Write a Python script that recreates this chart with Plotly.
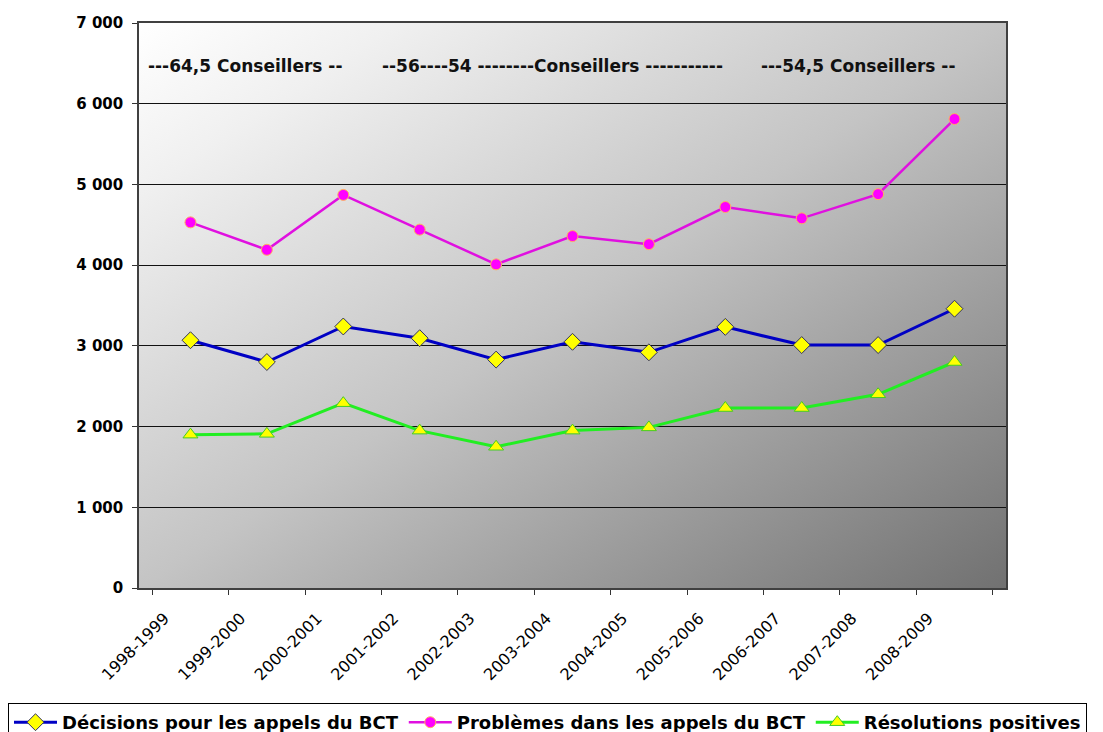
import plotly.graph_objects as go
import urllib.parse

# ---- data ----
years = ["1998-1999", "1999-2000", "2000-2001", "2001-2002", "2002-2003", "2003-2004",
         "2004-2005", "2005-2006", "2006-2007", "2007-2008", "2008-2009"]
decisions = [3070, 2800, 3240, 3095, 2830, 3050, 2920, 3235, 3010, 3010, 3460]
problemes = [4530, 4190, 4870, 4440, 4010, 4360, 4260, 4720, 4580, 4880, 5810]
resolutions = [1900, 1910, 2290, 1950, 1750, 1950, 1990, 2230, 2230, 2400, 2800]
series_names = ["Décisions pour les appels du BCT",
                "Problèmes dans les appels du BCT",
                "Résolutions positives"]
notes = ["---64,5 Conseillers --",
         "--56----54 --------Conseillers -----------",
         "---54,5 Conseillers --"]
note_x = [0.008, 0.278, 0.715]
note_y = 6470
y_ticks = [0, 1000, 2000, 3000, 4000, 5000, 6000, 7000]

FONT = "DejaVu Sans"

fig = go.Figure()
fig.add_trace(go.Scatter(
    x=years, y=decisions, name=series_names[0], mode="lines+markers",
    line=dict(color="#0000c4", width=3),
    marker=dict(symbol="diamond", size=13, color="#ffff00",
                line=dict(color="#303060", width=1))))
fig.add_trace(go.Scatter(
    x=years, y=problemes, name=series_names[1], mode="lines+markers",
    line=dict(color="#e010e0", width=2.5),
    marker=dict(symbol="circle", size=11, color="#ff00ff",
                line=dict(color="#ffb060", width=1))))
fig.add_trace(go.Scatter(
    x=years, y=resolutions, name=series_names[2], mode="lines+markers",
    line=dict(color="#22ee22", width=3),
    marker=dict(symbol="triangle-up", size=13, color="#ffff00",
                line=dict(color="#44cc22", width=1))))

for txt, xx in zip(notes, note_x):
    fig.add_annotation(text=txt, x=xx, xref="x domain", y=note_y, yref="y",
                       xanchor="left", yanchor="middle", showarrow=False,
                       font=dict(family=FONT, size=17, color="#111111", weight="bold"))

svg = ('<svg xmlns="http://www.w3.org/2000/svg" width="100" height="100" '
       'viewBox="0 0 100 100" preserveAspectRatio="none">'
       '<defs><linearGradient id="g" x1="0" y1="0" x2="1" y2="1">'
       '<stop offset="0" stop-color="#ffffff"/>'
       '<stop offset="0.15" stop-color="#f0f0f0"/>'
       '<stop offset="0.5" stop-color="#c4c4c4"/>'
       '<stop offset="1" stop-color="#717171"/>'
       '</linearGradient></defs>'
       '<rect x="0" y="0" width="100" height="100" fill="url(#g)"/></svg>')
src = "data:image/svg+xml;charset=utf-8," + urllib.parse.quote(svg)
fig.add_layout_image(dict(source=src, xref="x domain", yref="y domain",
                          x=0, y=1, sizex=1, sizey=1, xanchor="left", yanchor="top",
                          sizing="stretch", layer="below"))

# page body has an 8px margin: the figure is drawn 8px smaller and offset
W, H = 1095, 724
ml, mr, mt, mb = 2, 0, 15, 144
gw = W - ml - mr
gh = H - mt - mb
plot_l, plot_r, plot_b = 131, 998, 580
fig.update_layout(
    width=W, height=H,
    margin=dict(l=ml, r=mr, t=mt, b=mb, autoexpand=False),
    paper_bgcolor="white", plot_bgcolor="rgba(0,0,0,0)",
    separators=", ",
    font=dict(family=FONT, color="black"),
    showlegend=True,
    legend=dict(orientation="h", x=(0 - ml) / gw, xanchor="left",
                y=(plot_b - 695) / gh, yanchor="top",
                bordercolor="black", borderwidth=1, bgcolor="white",
                font=dict(family=FONT, size=18, color="black", weight="bold"),
                itemwidth=43, tracegroupgap=0),
    xaxis=dict(domain=[(plot_l - ml) / gw, (plot_r - ml) / gw], type="category",
               tickangle=-45, tickson="boundaries", ticks="outside", ticklen=5,
               tickcolor="#333333", showline=True, linecolor="#404040", linewidth=1.5,
               mirror=True, showgrid=False, ticklabelstandoff=13, ticklabelshift=-26,
               tickfont=dict(family=FONT, size=16, color="black")),
    yaxis=dict(range=[0, 7000], tickvals=y_ticks, tickformat=",d",
               ticks="outside", ticklen=5, tickcolor="#333333", ticklabelstandoff=6,
               showline=True, linecolor="#404040", linewidth=1.5, mirror=True,
               showgrid=True, gridcolor="#111111", gridwidth=1, zeroline=False,
               tickfont=dict(family=FONT, size=15, color="black", weight="bold")),
)

fig.write_html("out.html")
